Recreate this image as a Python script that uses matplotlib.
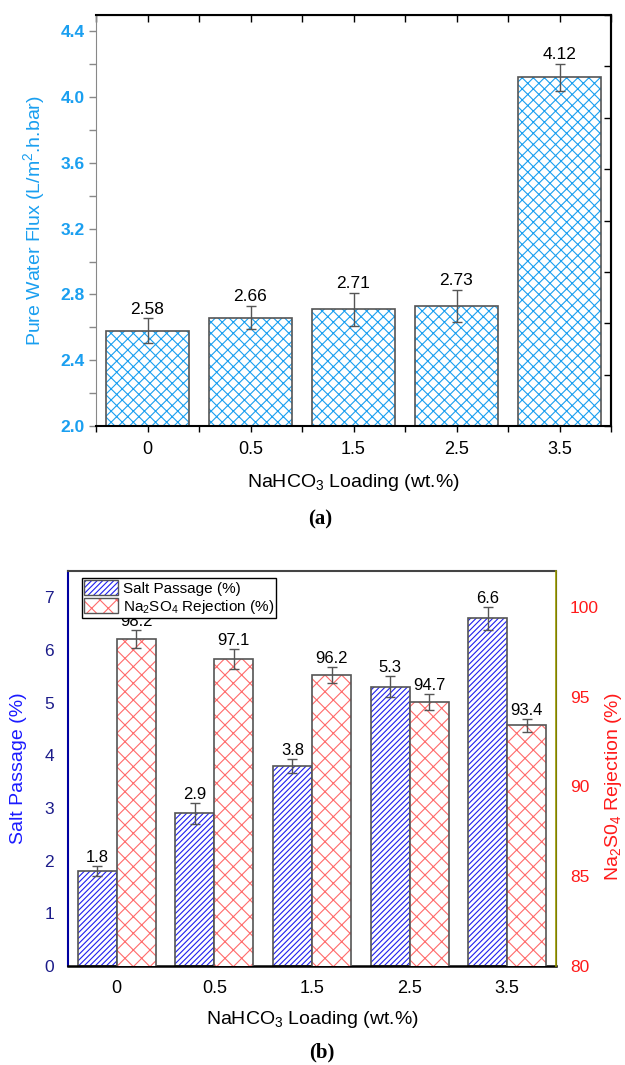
import numpy as np
import matplotlib
matplotlib.use('Agg')
import matplotlib.pyplot as plt
from matplotlib.patches import Patch
from matplotlib.ticker import MultipleLocator

plt.rcParams['font.family'] = ['Liberation Sans', 'DejaVu Sans']
plt.rcParams['mathtext.fontset'] = 'custom'
plt.rcParams['mathtext.rm'] = 'Liberation Sans'
plt.rcParams['mathtext.it'] = 'Liberation Sans:italic'
plt.rcParams['hatch.linewidth'] = 0.8

# Data
loading = ['0', '0.5', '1.5', '2.5', '3.5']
flux = [2.58, 2.66, 2.71, 2.73, 4.12]
flux_err = [0.075, 0.07, 0.10, 0.10, 0.085]
salt_passage = [1.8, 2.9, 3.8, 5.3, 6.6]
salt_err = [0.1, 0.2, 0.13, 0.2, 0.22]
rejection = [98.2, 97.1, 96.2, 94.7, 93.4]
rejection_err = [0.5, 0.55, 0.45, 0.45, 0.35]

x = np.arange(len(loading))
edge = '#555555'
xlabel = 'NaHCO$_3$ Loading (wt.%)'

fig = plt.figure(figsize=(6.25, 10.65), dpi=100)

# ---------------- (a) pure water flux ----------------
flux_c = '#1a9ff0'
ax1 = fig.add_axes([0.1536, 0.6, 0.824, 0.3859])
# hatch layer then outline layer
ax1.bar(x, flux, 0.8, color='white', edgecolor=flux_c, hatch='xxx', linewidth=0)
ax1.bar(x, flux, 0.8, color='none', edgecolor=edge, linewidth=1.2)
ax1.errorbar(x, flux, yerr=flux_err, fmt='none', ecolor=edge, elinewidth=1,
             capsize=3.5, capthick=1)
for xi, v, e in zip(x, flux, flux_err):
    ax1.text(xi, v + e + 0.01, f'{v:.2f}', ha='center', va='bottom', fontsize=12.5)

ax1.set_xlim(-0.5, 4.5)
ax1.set_ylim(2.0, 4.5)
ax1.set_xticks(x)
ax1.set_xticklabels(loading)
ax1.xaxis.set_minor_locator(MultipleLocator(0.5))
ax1.yaxis.set_major_locator(MultipleLocator(0.4))
ax1.yaxis.set_minor_locator(MultipleLocator(0.2))
ax1.tick_params(axis='x', which='both', direction='out', length=4, width=1,
                top=False, labelsize=13, pad=7)
ax1.tick_params(axis='y', which='both', direction='out', length=5, width=1,
                colors='#888888', labelcolor=flux_c, labelsize=12.5, pad=3)
for lab in ax1.get_yticklabels():
    lab.set_fontweight('bold')
ax1.spines['left'].set_color('#888888')
for s in ['top', 'bottom', 'right']:
    ax1.spines[s].set_linewidth(1.5)
ax1.set_ylabel('Pure Water Flux (L/m$^2$.h.bar)', color=flux_c, fontsize=14)
ax1.yaxis.set_label_coords(-0.095, 0.5)
ax1.set_xlabel(xlabel, fontsize=14)
ax1.xaxis.set_label_coords(0.5, -0.112)

# top ticks point inward
sec = ax1.secondary_xaxis('top')
sec.set_xticks(x)
sec.set_xticklabels([])
sec.xaxis.set_minor_locator(MultipleLocator(0.5))
sec.tick_params(which='both', direction='in', length=5, width=1)

# right spine with inward ticks
ax1r = ax1.twinx()
ax1r.set_ylim(0, 8)
ax1r.set_yticks(range(9))
ax1r.set_yticklabels([])
ax1r.tick_params(direction='in', length=5, width=1)
for s in ['left', 'top', 'bottom']:
    ax1r.spines[s].set_visible(False)
ax1r.spines['right'].set_linewidth(1.5)

fig.text(0.512, 1 - 519 / 1065, '(a)', ha='center', va='center', fontsize=15,
         fontweight='bold', family='Liberation Serif')

# ---------------- (b) salt passage and rejection ----------------
sp_c = '#1f1fee'
rj_c = '#ff6b6b'
w = 0.4
ax2 = fig.add_axes([0.1088, 0.093, 0.7808, 0.3708])
ax2.bar(x - w / 2, salt_passage, w, color='white', edgecolor=sp_c, hatch='//////',
        linewidth=0)
ax2.bar(x - w / 2, salt_passage, w, color='none', edgecolor=edge, linewidth=1.2)
ax2.errorbar(x - w / 2, salt_passage, yerr=salt_err, fmt='none', ecolor=edge,
             elinewidth=1, capsize=3.5, capthick=1)
for xi, v, e in zip(x - w / 2, salt_passage, salt_err):
    ax2.text(xi, v + e + 0.02, f'{v}', ha='center', va='bottom', fontsize=12)

ax2.set_xlim(-0.5, 4.5)
ax2.set_ylim(0, 7.5)
ax2.set_xticks(x)
ax2.set_xticklabels(loading)
ax2.tick_params(axis='x', length=0, labelsize=13, pad=10)
ax2.tick_params(axis='y', length=0, labelcolor='#1c1c8a', labelsize=12.5, pad=10)
ax2.set_ylabel('Salt Passage (%)', color='#1a1aff', fontsize=14)
ax2.yaxis.set_label_coords(-0.084, 0.5)
ax2.set_xlabel(xlabel, fontsize=14)
ax2.xaxis.set_label_coords(0.5, -0.11)
ax2.spines['left'].set_color('#0000a0')
ax2.spines['left'].set_linewidth(1.5)
ax2.spines['bottom'].set_linewidth(1.8)
ax2.spines['top'].set_color('#444444')
ax2.spines['top'].set_linewidth(1.5)

ax3 = ax2.twinx()
ax3.bar(x + w / 2, rejection, w, color='white', edgecolor=rj_c, hatch='xx',
        linewidth=0)
ax3.bar(x + w / 2, rejection, w, color='none', edgecolor=edge, linewidth=1.2)
ax3.errorbar(x + w / 2, rejection, yerr=rejection_err, fmt='none', ecolor=edge,
             elinewidth=1, capsize=3.5, capthick=1)
for xi, v, e in zip(x + w / 2, rejection, rejection_err):
    ax3.text(xi, v + e + 0.05, f'{v}', ha='center', va='bottom', fontsize=12)
ax3.set_ylim(80, 102)
ax3.set_yticks([80, 85, 90, 95, 100])
ax3.tick_params(axis='y', length=0, labelcolor='#ff1a1a', labelsize=12.5, pad=10)
ax3.set_ylabel('Na$_2$S0$_4$ Rejection (%)', color='#ff1a1a', fontsize=14)
ax3.yaxis.set_label_coords(1.096, 0.453)
for s in ['left', 'top', 'bottom']:
    ax3.spines[s].set_visible(False)
ax3.spines['right'].set_color('#999900')
ax3.spines['right'].set_linewidth(1.2)

# legend with hatch + outline overlaid
h_sp = (Patch(facecolor='white', edgecolor=sp_c, hatch='//////', linewidth=0),
        Patch(facecolor='none', edgecolor=edge, linewidth=1))
h_rj = (Patch(facecolor='white', edgecolor=rj_c, hatch='xx', linewidth=0),
        Patch(facecolor='none', edgecolor=edge, linewidth=1))
leg = ax3.legend([h_sp, h_rj], ['Salt Passage (%)', 'Na$_2$SO$_4$ Rejection (%)'],
                 loc='upper left', bbox_to_anchor=(0.029, 0.982), borderaxespad=0,
                 fontsize=11, fancybox=False, edgecolor='black', framealpha=1,
                 handlelength=2.2, handleheight=1.1, borderpad=0.15,
                 labelspacing=0.12, handletextpad=0.3)
leg.get_frame().set_linewidth(1)

fig.text(0.515, 1 - 1052 / 1065, '(b)', ha='center', va='center', fontsize=15,
         fontweight='bold', family='Liberation Serif')

fig.savefig('out.png', dpi=100)
